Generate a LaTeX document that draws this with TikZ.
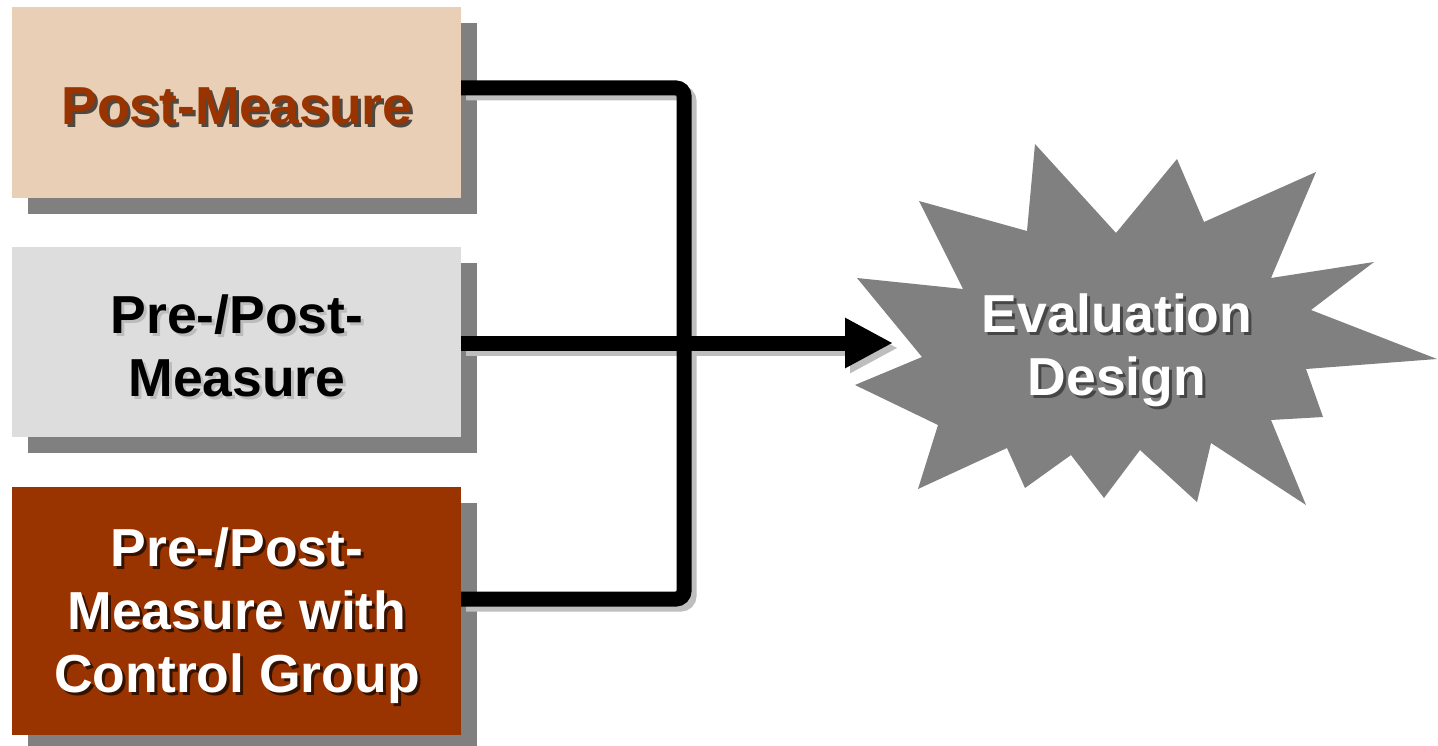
\documentclass[tikz,border=0pt]{standalone}
\usepackage{fontspec}
\setmainfont{Liberation Sans}
\usetikzlibrary{arrows.meta,shadows}
\definecolor{peach}{RGB}{232,207,182}
\definecolor{lightbox}{RGB}{221,221,221}
\definecolor{rust}{RGB}{153,51,0}
\definecolor{shgray}{RGB}{128,128,128}
\definecolor{lineshadow}{RGB}{190,190,190}
\definecolor{burst}{RGB}{128,128,128}
\begin{document}
\begin{tikzpicture}[x=1pt,y=-1pt,
  box/.style={draw=none,minimum width=449pt,inner sep=0pt,outer sep=0pt,
    drop shadow={shadow xshift=16pt,shadow yshift=-16pt,fill=shgray,opacity=1}},
  txt/.style={font=\fontsize{53.5}{63}\selectfont\bfseries,align=center,inner sep=0pt},
  tshadow/.style={txt,text=black,opacity=.65},
  conn/.style={line width=15pt,rounded corners=8pt,draw=black},
  connshadow/.style={conn,draw=lineshadow,transform canvas={xshift=5pt,yshift=-5pt}},
  arrowtip/.style={-{Triangle[length=48pt,width=47pt]}}
]
\useasboundingbox (0,0) rectangle (1438,746);
\fill[white] (0,0) rectangle (1438,746);

% boxes
\node[box,fill=peach,minimum height=191pt] (b1) at (236.5,102.5) {};
\node[box,fill=lightbox,minimum height=190pt] (b2) at (236.5,342) {};
\node[box,fill=rust,minimum height=248pt] (b3) at (236.5,611) {};

% connector coordinates
\coordinate (j1) at (684,88);
\coordinate (j3) at (684,599);
\coordinate (tip) at (893,343);

% connector shadows
\draw[connshadow] (b1.east |- j1) -- (j1) -- (j3) -- (b3.east |- j3);
\draw[connshadow,arrowtip,fill=lineshadow] (b2.east |- tip) -- (tip);
% connectors
\draw[conn] (b1.east |- j1) -- (j1) -- (j3) -- (b3.east |- j3);
\draw[conn,arrowtip,fill=black] (b2.east |- tip) -- (tip);

% starburst
\fill[burst] (1035,144) -- (1116,233) -- (1177,159) -- (1204,222) -- (1316,172)
  -- (1271,278) -- (1374,262) -- (1311,310) -- (1437,359) -- (1306,369)
  -- (1323,417) -- (1271,420) -- (1306,505) -- (1211,443) -- (1197,502)
  -- (1140,450) -- (1104,498) -- (1071,455) -- (1025,488) -- (1007,448)
  -- (918,489) -- (938,425) -- (855,385) -- (922,357) -- (857,278)
  -- (963,289) -- (919,201) -- (1027,231) -- cycle;

% texts
\node[tshadow] (t1s) at (240,109) {Post-Measure};
\node[txt,text=rust] (t1) at (237,106) {Post-Measure};
\node[tshadow,text=gray,opacity=.35] (t2s) at (240,349) {Pre-/Post-\\Measure};
\node[txt,text=black] (t2) at (237,346) {Pre-/Post-\\Measure};
\node[tshadow] (t3s) at (240,619) {Pre-/Post-\\Measure with\\Control Group};
\node[txt,text=white] (t3) at (237,616) {Pre-/Post-\\Measure with\\Control Group};
\node[tshadow,opacity=.45] (t4s) at (1120,353.5) {Evaluation\\Design};
\node[txt,text=white] (t4) at (1117,350.5) {Evaluation\\Design};
\end{tikzpicture}
\end{document}
